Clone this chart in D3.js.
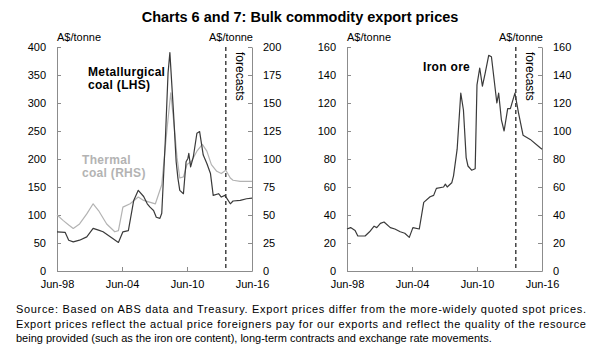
<!DOCTYPE html>
<html>
<head>
<meta charset="utf-8">
<script src="https://cdn.jsdelivr.net/npm/d3@7"></script>
<style>
body { margin: 0; background: #fff; }
svg { font-family: "Liberation Sans", Arial, sans-serif; }
.axis path, .axis line { stroke: #8c8c8c; stroke-width: 1; }
.axis text { font-size: 11px; fill: #000; }
</style>
</head>
<body>
<svg id="chart" width="597" height="351"></svg>
<script>
// values (A$/tonne), dates are yyyy-mm
const metDates = ["1998-06","1999-03","1999-07","1999-12","2000-07","2001-03","2001-10","2002-04","2002-09","2003-05",
    "2004-02","2004-07","2005-01","2005-07","2005-12","2006-06","2006-10","2007-01","2007-05","2007-08","2007-12","2008-02",
    "2008-06","2008-09","2008-11","2009-03","2009-06","2009-08","2009-10","2010-02","2010-05","2010-07","2010-08","2010-10",
    "2011-01","2011-05","2011-08","2011-12","2012-04","2012-08","2012-11","2013-05","2013-08","2013-12","2014-06","2014-09",
    "2015-05","2015-12","2016-06"]
const metValues = [70,69,55,52,55,61,76,73,70,61,
    51,70,72,126,144,133,120,114,108,96,94,103,
    234,354,390,285,195,165,144,138,195,201,210,186,
    204,246,249,207,192,174,135,138,132,135,120,125,
    126,129,130]

const thermalDates = ["1998-06","1999-01","1999-07","1999-12","2000-07","2001-03","2001-10","2002-04","2003-01","2003-10",
    "2004-02","2004-07","2005-03","2005-12","2006-06","2007-07","2008-02","2008-08","2008-12","2009-04","2009-07","2009-10",
    "2010-02","2010-06","2010-11","2011-05","2011-11","2012-04","2012-09","2013-03","2013-08","2014-01","2014-06","2014-09",
    "2015-05","2016-06"]
const thermalValues = [50,45,41,38,42,51,60,54,42,35,
    36,57,60,66,63,60,77,128,159,128,101,83,
    84,95,98,107,113,107,95,89,87,90,83,81,
    80,80]

const ironDates = ["1998-06","1998-10","1999-03","1999-06","2000-02","2000-07","2000-12","2001-03","2001-07","2001-11",
    "2002-06","2002-11","2003-05","2003-10","2004-03","2004-07","2005-02","2005-07","2006-02","2006-06","2006-09","2007-05",
    "2007-07","2007-09","2008-02","2008-04","2008-08","2008-12","2009-03","2009-06","2009-08","2009-12","2010-04","2010-06",
    "2010-09","2010-12","2011-03","2011-07","2011-10","2012-04","2012-06","2012-09","2012-12","2013-04","2013-07","2013-12",
    "2014-04","2014-09","2015-05","2016-04","2016-06"]
const ironValues = [30,31,29,25,25,28,32,31,34,35,
    31,30,28,27,24,31,30,49,53,54,59,60,
    62,60,63,68,87,127,115,81,75,72,73,133,
    145,132,141,154,153,120,127,108,100,116,116,127,
    113,97,94,88,87]

const forecastStart = "2014-01"
const xTickDates = ["1998-06","2004-06","2010-06","2016-06"]
const xTickLabels = ["Jun-98","Jun-04","Jun-10","Jun-16"]
const coalLeftTicks = [0,50,100,150,200,250,300,350,400]
const coalRightTicks = [0,25,50,75,100,125,150,175,200]
const ironTicks = [0,20,40,60,80,100,120,140,160]

const title = "Charts 6 and 7: Bulk commodity export prices"
const unitLabel = "A$/tonne"
const noteLines = [
    "Source: Based on ABS data and Treasury. Export prices differ from the more-widely quoted spot prices.",
    "Export prices reflect the actual price foreigners pay for our exports and reflect the quality of the resource",
    "being provided (such as the iron ore content), long-term contracts and exchange rate movements."
]

const parseDate = d3.timeParse("%Y-%m")
const zip = (dates, values) => dates.map((d, i) => ({date: parseDate(d), value: values[i]}))

class PricePanel {

    constructor(svg, left, right, leftTicks, rightTicks) {
        this.g = svg.append("g")
        this.left = left
        this.right = right
        this.top = 47
        this.bottom = 271

        this.scaleX = d3.scaleTime()
            .domain([parseDate(xTickDates[0]), parseDate(xTickDates[xTickDates.length - 1])])
            .range([left, right])
        this.scaleYLeft = d3.scaleLinear()
            .domain([0, leftTicks[leftTicks.length - 1]])
            .range([this.bottom, this.top])
        this.scaleYRight = d3.scaleLinear()
            .domain([0, rightTicks[rightTicks.length - 1]])
            .range([this.bottom, this.top])
        this.leftTicks = leftTicks
        this.rightTicks = rightTicks

        this.drawAxes()
        this.drawForecastLine()
    }

    drawAxes() {
        let xAxis = d3.axisBottom(this.scaleX)
            .tickValues(xTickDates.map(parseDate))
            .tickFormat((d, i) => xTickLabels[i])
            .tickSizeInner(-4).tickSizeOuter(0).tickPadding(9)
        let yAxisLeft = d3.axisLeft(this.scaleYLeft)
            .tickValues(this.leftTicks)
            .tickSizeInner(-4).tickSizeOuter(0).tickPadding(11)
        let yAxisRight = d3.axisRight(this.scaleYRight)
            .tickValues(this.rightTicks)
            .tickSizeInner(-4).tickSizeOuter(0).tickPadding(11)

        this.g.append("g").attr("class", "axis")
            .attr("transform", "translate(0," + this.bottom + ")").call(xAxis)
        this.g.append("g").attr("class", "axis")
            .attr("transform", "translate(" + this.left + ",0)").call(yAxisLeft)
        this.g.append("g").attr("class", "axis")
            .attr("transform", "translate(" + this.right + ",0)").call(yAxisRight)

        this.g.append("text").attr("x", this.left).attr("y", 41)
            .attr("font-size", "11px").text(unitLabel)
        this.g.append("text").attr("x", this.right + 1).attr("y", 41)
            .attr("text-anchor", "end").attr("font-size", "11px").text(unitLabel)
    }

    drawForecastLine() {
        let fx = this.scaleX(parseDate(forecastStart))
        this.g.append("line")
            .attr("x1", fx).attr("x2", fx)
            .attr("y1", this.top).attr("y2", this.bottom)
            .attr("stroke", "#000").attr("stroke-width", 1.1)
            .attr("stroke-dasharray", "4,3")
        this.g.append("text")
            .attr("transform", "translate(" + (fx + 10) + "," + (this.top + 5) + ") rotate(90)")
            .attr("font-size", "12px").text("forecasts")
    }

    drawSeries(data, scaleY, color) {
        let line = d3.line()
            .x((d) => this.scaleX(d.date))
            .y((d) => scaleY(d.value))
        this.g.append("path")
            .datum(data)
            .attr("fill", "none")
            .attr("stroke", color)
            .attr("stroke-width", 1.2)
            .attr("stroke-linejoin", "round")
            .attr("d", line)
    }

    label(lines, x, y, color) {
        let t = this.g.append("text")
            .attr("x", x).attr("y", y)
            .attr("font-size", "12px").attr("font-weight", "bold")
            .attr("letter-spacing", "0.3px").attr("fill", color)
        lines.forEach((s, i) => {
            t.append("tspan").attr("x", x).attr("dy", i == 0 ? 0 : 13).text(s)
        })
    }
}

const svg = d3.select("#chart")

svg.append("text")
    .attr("x", 300).attr("y", 22)
    .attr("text-anchor", "middle")
    .attr("font-size", "14.5px").attr("font-weight", "bold")
    .text(title)

const coal = new PricePanel(svg, 57, 252, coalLeftTicks, coalRightTicks)
coal.drawSeries(zip(thermalDates, thermalValues), coal.scaleYRight, "#b3b3b3")
coal.drawSeries(zip(metDates, metValues), coal.scaleYLeft, "#3a3a3a")
coal.label(["Metallurgical", "coal (LHS)"], 88, 76, "#000")
coal.label(["Thermal", "coal (RHS)"], 82, 164, "#b3b3b3")

const iron = new PricePanel(svg, 347, 542, ironTicks, ironTicks)
iron.drawSeries(zip(ironDates, ironValues), iron.scaleYLeft, "#3a3a3a")
iron.label(["Iron ore"], 423, 71, "#000")

svg.append("g").selectAll("text")
    .data(noteLines)
    .join("text")
        .attr("x", 16)
        .attr("y", (d, i) => 313 + i * 14.5)
        .attr("font-size", "11px")
        .attr("textLength", (d, i) => i < 2 ? 570 : null)
        .attr("lengthAdjust", "spacing")
        .text((d) => d)
</script>
</body>
</html>
